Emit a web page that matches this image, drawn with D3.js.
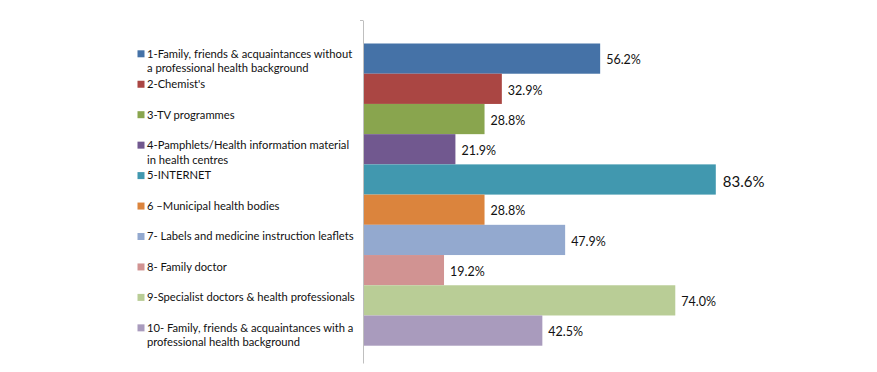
<!DOCTYPE html>
<html><head><meta charset="utf-8">
<script src="https://cdn.jsdelivr.net/npm/d3@7"></script>
<style>body{margin:0;background:#fff;}svg{display:block;}</style>
</head><body>
<svg id="chart" width="877" height="372"></svg>
<script>
const categories = [
  ["1-Family, friends & acquaintances without", "a professional health background"],
  ["2-Chemist's"],
  ["3-TV programmes"],
  ["4-Pamphlets/Health information material", "in health centres"],
  ["5-INTERNET"],
  ["6 \u2013Municipal health bodies"],
  ["7- Labels and medicine instruction leaflets"],
  ["8- Family doctor"],
  ["9-Specialist doctors & health professionals"],
  ["10- Family, friends & acquaintances with a", "professional health background"]
];
const values = [56.2, 32.9, 28.8, 21.9, 83.6, 28.8, 47.9, 19.2, 74.0, 42.5];
const colors = ["#4572A7","#AA4643","#89A54E","#71588F","#4198AF","#DB843D","#93A9CF","#D19392","#B9CD96","#A99BBD"];

const svg = d3.select("#chart");
const font = "Lato, 'Open Sans', sans-serif";
const x0 = 363;
const x = d3.scaleLinear().domain([0, 100]).range([x0, x0 + 422]);
const y = d3.scaleBand().domain(d3.range(values.length)).range([43.5, 345.7]).padding(0);

// bars
svg.selectAll("rect.bar").data(values).enter().append("rect")
  .attr("class","bar")
  .attr("x", x(0))
  .attr("y", (d,i)=>y(i))
  .attr("width", d=>x(d)-x(0))
  .attr("height", y.bandwidth())
  .attr("fill", (d,i)=>colors[i]);

// axis line
const axisScale = d3.scaleLinear().domain([0,1]).range([20, 363]);
const ax = svg.append("g").attr("transform", `translate(${x0},0)`)
  .call(d3.axisLeft(axisScale).tickValues([0]).tickSize(3).tickSizeOuter(0).tickFormat(""));
ax.select(".domain").attr("stroke","#BFBFBF");
ax.selectAll(".tick line").attr("stroke","#BFBFBF");

// value labels
const vmax = d3.max(values);
svg.selectAll("text.val").data(values).enter().append("text")
  .attr("class","val")
  .attr("x", d=>x(d)+ (d===vmax?7:6))
  .attr("y", (d,i)=>y(i)+y.bandwidth()/2 + (d===vmax?4:2.5))
  .attr("dominant-baseline","middle")
  .attr("font-family", font)
  .attr("font-size", d=>d===vmax?"15px":"12.5px")
  .attr("fill","#111")
  .text(d=>d.toFixed(1)+"%");

// legend
const legStart = 54.8, legStep = 30.45, lineH = 14.8;
const leg = svg.selectAll("g.leg").data(categories).enter().append("g")
  .attr("class","leg")
  .attr("transform",(d,i)=>`translate(137.5,${legStart + i*legStep})`);
leg.append("rect").attr("x",0).attr("y",-4.5).attr("width",7).attr("height",7)
  .attr("fill",(d,i)=>colors[i]);
leg.each(function(d){
  const g = d3.select(this);
  d.forEach((line,j)=>{
    g.append("text").attr("x",9.5).attr("y", j*lineH)
      .attr("dominant-baseline","middle")
      .attr("font-family", font).attr("font-size","11.2px").attr("fill","#111")
      .text(line);
  });
});
</script>
</body></html>
